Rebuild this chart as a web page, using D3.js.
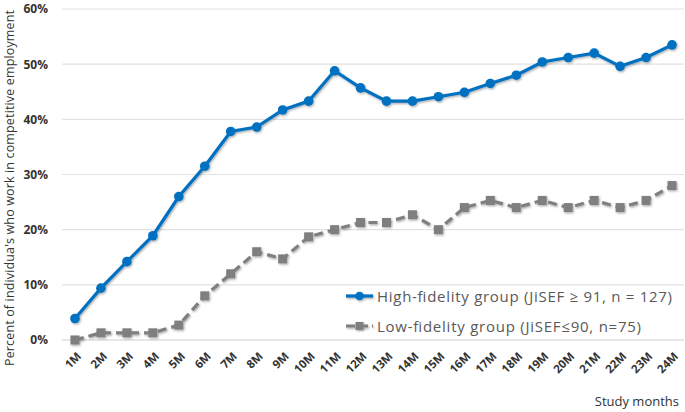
<!DOCTYPE html>
<html><head><meta charset="utf-8">
<script src="https://cdn.jsdelivr.net/npm/d3@7"></script>
<style>body{margin:0;background:#fff}svg{display:block}</style>
</head><body>
<svg id="c" width="685" height="412"></svg>
<script>
const months = ["1M","2M","3M","4M","5M","6M","7M","8M","9M","10M","11M","12M","13M","14M","15M","16M","17M","18M","19M","20M","21M","22M","23M","24M"];
const highFidelity = [3.9,9.4,14.2,18.9,26.0,31.5,37.8,38.6,41.7,43.3,48.8,45.7,43.3,43.3,44.1,44.9,46.5,48.0,50.4,51.2,52.0,49.6,51.2,53.5];
const lowFidelity = [0,1.3,1.3,1.3,2.7,8.0,12.0,16.0,14.7,18.7,20.0,21.3,21.3,22.7,20.0,24.0,25.3,24.0,25.3,24.0,25.3,24.0,25.3,28.0];
const yTicks = [0,10,20,30,40,50,60];
const seriesNames = ["High-fidelity group (JiSEF \u2265 91, n = 127)","Low-fidelity group (JiSEF\u226490, n=75)"];
const yTitle = "Percent of individua's who work in competitive employment";
const xTitle = "Study months";

const svg = d3.select("#c");
const font = "'Open Sans', sans-serif";
const defs = svg.append("defs");
const f = defs.append("filter").attr("id","sh").attr("x","-20%").attr("y","-20%").attr("width","140%").attr("height","140%");
f.append("feDropShadow").attr("dx",1).attr("dy",1.2).attr("stdDeviation",1).attr("flood-color","#000").attr("flood-opacity",0.35);

const x = d3.scaleBand().domain(months).range([62,685]);
const y = d3.scaleLinear().domain([0,60]).range([340,9]);
const cx = d => x(d) + x.bandwidth()/2;

// gridlines
svg.append("g").selectAll("line").data(yTicks).join("line")
  .attr("x1",62).attr("x2",684).attr("y1",d=>y(d)).attr("y2",d=>y(d))
  .attr("stroke",d=>d===0?"#d0d0d0":"#e2e2e2").attr("stroke-width",1.2);

// y axis labels
const ya = svg.append("g").attr("transform","translate(48,0)")
  .call(d3.axisLeft(y).tickValues(yTicks).tickFormat(d=>d+"%").tickSize(0).tickPadding(0));
ya.select(".domain").remove();
ya.selectAll("text").attr("font-family",font).attr("font-weight","bold").attr("font-size",12).attr("fill","#333");

// x axis labels
const xa = svg.append("g").attr("transform","translate(0,340)")
  .call(d3.axisBottom(x).tickSize(0).tickPadding(0));
xa.select(".domain").remove();
xa.selectAll(".tick text")
  .attr("font-family",font).attr("font-weight","bold").attr("font-size",11.5).attr("fill","#333")
  .attr("text-anchor","end").attr("dy",0).attr("y",0)
  .attr("transform","translate(7,17) rotate(-45)");

// titles
svg.append("text").attr("transform","translate(14,188) rotate(-90)").attr("text-anchor","middle")
  .attr("font-family",font).attr("font-size",12.5).attr("fill","#333")
  .attr("textLength",356).attr("lengthAdjust","spacing").text(yTitle);
svg.append("text").attr("x",679).attr("y",406).attr("text-anchor","end")
  .attr("font-family",font).attr("font-size",13).attr("fill","#333").text(xTitle);

const line = d3.line().x((d,i)=>cx(months[i])).y(d=>y(d));

// low series
const gl = svg.append("g").attr("filter","url(#sh)");
gl.append("path").datum(lowFidelity).attr("d",line).attr("fill","none")
  .attr("stroke","#7f7f7f").attr("stroke-width",3.2).attr("stroke-dasharray","9,5");
gl.selectAll("rect").data(lowFidelity).join("rect")
  .attr("x",(d,i)=>cx(months[i])-4.5).attr("y",d=>y(d)-4.5).attr("width",9).attr("height",9).attr("fill","#7f7f7f");

// high series
const gh = svg.append("g").attr("filter","url(#sh)");
gh.append("path").datum(highFidelity).attr("d",line).attr("fill","none")
  .attr("stroke","#0070c0").attr("stroke-width",3.2);
gh.selectAll("circle").data(highFidelity).join("circle")
  .attr("cx",(d,i)=>cx(months[i])).attr("cy",d=>y(d)).attr("r",4.8).attr("fill","#0070c0");

// legend
const lg = svg.append("g");
const ly = [296,326];
const lw = [295,264];
const lg1 = lg.append("g").attr("filter","url(#sh)");
lg1.append("line").attr("x1",346).attr("x2",373).attr("y1",ly[0]).attr("y2",ly[0]).attr("stroke","#0070c0").attr("stroke-width",3.2);
lg1.append("circle").attr("cx",359.5).attr("cy",ly[0]).attr("r",4.3).attr("fill","#0070c0");
const lg2 = lg.append("g").attr("filter","url(#sh)");
lg2.append("line").attr("x1",346).attr("x2",373).attr("y1",ly[1]).attr("y2",ly[1]).attr("stroke","#7f7f7f").attr("stroke-width",3.2).attr("stroke-dasharray","9,4");
lg2.append("rect").attr("x",355.5).attr("y",ly[1]-4).attr("width",8).attr("height",8).attr("fill","#7f7f7f");
lg.selectAll("text").data(seriesNames).join("text")
  .attr("x",377).attr("y",(d,i)=>ly[i]+5.5).attr("font-family",font).attr("font-size",15).attr("fill","#595959")
  .attr("textLength",(d,i)=>lw[i]).attr("lengthAdjust","spacing").text(d=>d);
</script>
</body></html>
